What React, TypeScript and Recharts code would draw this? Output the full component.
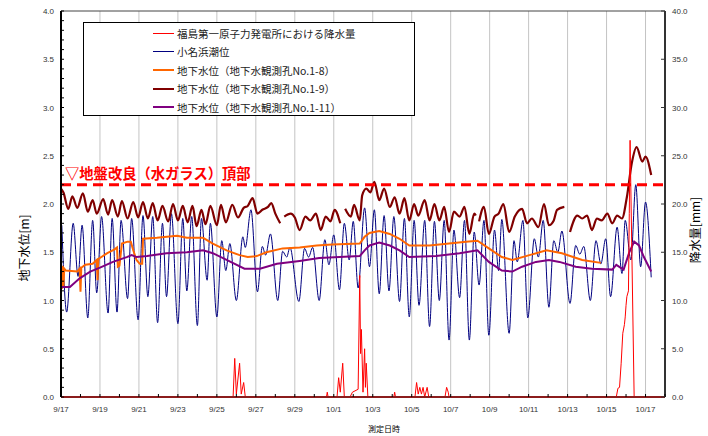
import React from 'react';
import { LineChart, Line, XAxis, YAxis, CartesianGrid, ReferenceLine } from 'recharts';

// points are [hours since 9/17 0:00, value]; null breaks the line
type Pt = [number, number | null];

const dateLabels = ['9/17', '9/19', '9/21', '9/23', '9/25', '9/27', '9/29', '10/1', '10/3', '10/5', '10/7', '10/9', '10/11', '10/13', '10/15', '10/17'];

const rainfall: Pt[] = [
  [0, 0], [212, 0], [214, 4.0], [216, 0.3], [220, 3.5], [222, 0.3], [225, 1.5], [227, 0],
  [327, 0], [328, 0.5], [329, 0], [340, 0], [342, 2.0], [344, 0.5], [347, 3.5], [349, 0],
  [356, 0], [359, 0.5], [366, 0.8], [368, 12.6], [369, 4.5], [370, 7.0], [372, 0.5], [374, 5.0], [375, 1.0], [376, 3.5], [378, 0],
  [410, 0], [411, 0.5], [412, 0],
  [436, 0], [438, 1.5], [440, 0.3], [442, 1.0], [444, 0.3], [446, 1.0], [448, 0], [451, 1.0], [453, 0],
  [473, 0], [475, 1.0], [477, 0.5], [478, 0],
  [684, 0], [686, 0.9], [688, 1.0], [690, 3.5], [692, 6.6], [694, 7.5], [695, 8.3], [696, 9.5], [697, 10.4], [699, 11.0], [700, 19.0], [701, 26.6], [706, 0],
  [727, 0],
];

const tideLevel: Pt[] = [
  [1, 1.78], [7, 0.88], [15, 1.80], [21, 1.25], [26, 1.78], [33, 0.82], [39, 1.83], [44, 1.08], [50, 1.87], [58, 0.87],
  [63, 1.85], [69, 0.88], [74, 1.83], [82, 1.02], [87, 1.85], [95, 0.80], [101, 1.88], [107, 1.04], [113, 1.87], [119, 0.77],
  [125, 1.80], [130, 1.04], [136, 1.90], [144, 0.76], [150, 1.85], [155, 1.10], [161, 1.87], [168, 0.74], [173, 1.85], [180, 1.21],
  [184, 1.80], [192, 0.83], [198, 1.62], [203, 1.31], [208, 1.59], [216, 1.00], [224, 1.66], [227, 1.55], [234, 1.94], [242, 1.09],
  [248, 1.56], [252, 1.47], [258, 1.69], [267, 1.00], [273, 1.51], [278, 1.45], [282, 1.55], [293, 0.99], [300, 1.54], [305, 1.45],
  [310, 1.55], [318, 1.00], [325, 1.63], [330, 1.37], [336, 1.68], [343, 1.11], [349, 1.80], [355, 1.42], [360, 1.82], [366, 1.13],
  [374, 1.96], [380, 1.35], [386, 1.94], [392, 1.07], [398, 1.88], [404, 1.10], [410, 1.87], [417, 0.99], [423, 1.85], [429, 0.83],
  [435, 1.83], [441, 0.95], [448, 1.83], [454, 0.73], [460, 1.82], [466, 1.00], [472, 1.83], [478, 0.59], [484, 1.73], [491, 1.03],
  [497, 1.83], [503, 0.59], [509, 1.71], [515, 1.16], [521, 1.83], [527, 0.64], [534, 1.73], [539, 1.31], [543, 1.84], [552, 0.66],
  [558, 1.62], [562, 1.40], [569, 1.83], [575, 0.82], [583, 1.64], [588, 1.45], [594, 1.83], [601, 0.93], [607, 1.62], [612, 1.50],
  [617, 1.72], [627, 0.97], [634, 1.57], [639, 1.48], [644, 1.56], [652, 1.00], [659, 1.62], [665, 1.38], [671, 1.64], [677, 1.04],
  [685, 1.76], [691, 1.28], [695, 1.83], [702, 1.42], [708, 2.20], [714, 1.35], [720, 2.02], [727, 1.24],
];

const well18: Pt[] = [
  [0, 1.37], [1, 1.12], [2, 1.36], [3, 1.15], [4, 1.33], [6, 1.31], [20, 1.30], [23, 1.33], [24, 1.09], [25, 1.34],
  [30, 1.37], [39, 1.38], [44, 1.42], [45, 1.21], [46, 1.43], [57, 1.49], [66, 1.53], [69, 1.55], [70, 1.35], [72, 1.36],
  [75, 1.59], [82, 1.61], [86, 1.61], [89, 1.52], [93, 1.42], [97, 1.38], [100, 1.38], [101, 1.64], [118, 1.65], [143, 1.67],
  [155, 1.65], [175, 1.65], [187, 1.59], [204, 1.52], [220, 1.47], [230, 1.45], [241, 1.46], [253, 1.50], [273, 1.54], [294, 1.55],
  [315, 1.57], [334, 1.58], [368, 1.59], [374, 1.66], [380, 1.70], [392, 1.72], [405, 1.69], [417, 1.64], [429, 1.57], [454, 1.57],
  [478, 1.59], [499, 1.61], [513, 1.62], [527, 1.54], [543, 1.45], [556, 1.42], [577, 1.47], [598, 1.52], [617, 1.49], [642, 1.42],
  [665, 1.39],
];

const well19: Pt[] = [
  [0, 2.16], [3, 2.12], [9, 1.95], [14, 2.08], [20, 1.96], [27, 2.11], [33, 1.92], [39, 2.04], [44, 1.90], [52, 2.05],
  [58, 1.89], [63, 2.04], [70, 1.87], [75, 2.03], [82, 1.85], [89, 2.02], [95, 1.86], [101, 2.02], [107, 1.85], [113, 2.01],
  [119, 1.83], [125, 1.98], [132, 1.82], [138, 2.00], [144, 1.83], [150, 1.98], [156, 1.81], [162, 1.98], [167, 1.77], [173, 1.94],
  [178, 1.79], [184, 1.98], [192, 1.78], [197, 1.99], [203, 1.81], [211, 1.99], [218, 1.86], [225, 1.96], [230, 1.98], [236, 2.06],
  [242, 1.90], [248, 1.94], [255, 1.97], [259, 2.01], [264, 1.90], [270, 1.80], [273, null],
  [275, 1.87], [283, 1.90], [288, 1.86], [294, 1.73], [301, 1.87], [307, 1.83], [314, 1.90], [320, 1.73], [326, 1.87], [332, 1.82],
  [337, 1.94], [344, 1.80], [346, null],
  [350, 1.95], [357, 1.87], [361, 1.99], [368, 1.83], [371, 2.09], [376, 2.16], [381, 2.12], [386, 2.23], [392, 2.04], [398, 2.16],
  [405, 1.97], [411, 2.07], [417, 1.90], [423, 2.06], [429, 1.83], [435, 2.00], [440, 1.88], [448, 2.04], [454, 1.83], [460, 2.00],
  [466, 1.83], [472, 1.97], [478, 1.71], [484, 1.92], [491, 1.87], [497, 1.97], [503, 1.69], [509, 1.90], [511, 1.88], [513, null],
  [515, 1.82], [521, 1.97], [527, 1.69], [534, 1.87], [539, 1.90], [545, 2.00], [552, 1.71], [559, 1.87], [568, 1.95], [574, 1.80],
  [580, 1.85], [588, 1.76], [595, 2.00], [601, 1.78], [607, 1.83], [611, 1.94], [620, 1.97], [624, null],
  [627, 1.71], [636, 1.88], [642, 1.85], [648, 1.88], [654, 1.73], [660, 1.85], [666, 1.83], [673, 1.90], [679, 1.80], [685, 1.88],
  [691, 1.85], [697, 2.07], [703, 2.42], [709, 2.59], [716, 2.44], [720, 2.49], [727, 2.30],
];

const well111: Pt[] = [
  [0, 1.14], [11, 1.14], [23, 1.23], [36, 1.30], [48, 1.34], [64, 1.40], [81, 1.45], [87, 1.47], [93, 1.45], [106, 1.46],
  [130, 1.49], [155, 1.50], [175, 1.52], [187, 1.49], [204, 1.42], [226, 1.33], [245, 1.33], [266, 1.38], [294, 1.41], [318, 1.44],
  [343, 1.45], [368, 1.46], [374, 1.52], [380, 1.57], [392, 1.60], [405, 1.57], [417, 1.52], [429, 1.45], [462, 1.46], [491, 1.49],
  [513, 1.52], [527, 1.40], [543, 1.31], [556, 1.30], [568, 1.35], [585, 1.40], [601, 1.42], [614, 1.40], [634, 1.35], [654, 1.33],
  [679, 1.32], [684, 1.37], [693, 1.32], [700, 1.50], [706, 1.61], [712, 1.57], [718, 1.45], [727, 1.30],
];

const groutTop = 2.2;
const groutLabel = '▽地盤改良（水ガラス）頂部';

const legendItems = [
  { name: '福島第一原子力発電所における降水量', color: '#ff0000', width: 1 },
  { name: '小名浜潮位', color: '#000080', width: 1 },
  { name: '地下水位（地下水観測孔No.1-8）', color: '#ff6600', width: 2 },
  { name: '地下水位（地下水観測孔No.1-9）', color: '#800000', width: 2 },
  { name: '地下水位（地下水観測孔No.1-11）', color: '#800080', width: 2 },
];

const rows = (pts: Pt[]) => pts.map(([h, v]) => ({ h, v }));

const PL = 61;
const PR = 665;
const PB = 397;
const JP = '"Noto Sans CJK JP", sans-serif';
const NUM = '"Liberation Sans", Arial, sans-serif';

document.body.style.margin = '0';

const dayTicks = Array.from({ length: 32 }, (_, i) => i * 24);
const gridHours = dateLabels.map((_, i) => i * 48).filter(v => v > 0);
const levelTicks = Array.from({ length: 41 }, (_, i) => i / 10);

const DateTick = (props: any) => {
  const { x, payload } = props;
  const day = Math.round(payload.value / 24);
  const label = day % 2 === 0 ? dateLabels[day / 2] : null;
  return (
    <g>
      <line x1={x} x2={x} y1={PB} y2={PB - 3} stroke="#000" />
      {label && (
        <text x={x} y={PB + 15} textAnchor="middle" fontSize={8} fontFamily={NUM} fill="#333">{label}</text>
      )}
    </g>
  );
};

const LevelTick = (props: any) => {
  const { y, payload } = props;
  const major = Math.round(payload.value * 10) % 5 === 0;
  return (
    <g>
      <line x1={PL} x2={PL + 3} y1={y} y2={y} stroke="#000" />
      {major && (
        <text x={PL - 7} y={y + 3} textAnchor="end" fontSize={8} fontFamily={NUM} fill="#333">{payload.value.toFixed(1)}</text>
      )}
    </g>
  );
};

const RainTick = (props: any) => {
  const { y, payload } = props;
  return (
    <g>
      <line x1={PR - 4} x2={PR} y1={y} y2={y} stroke="#333" />
      <text x={PR + 7} y={y + 3} textAnchor="start" fontSize={8} fontFamily={NUM} fill="#333">{payload.value.toFixed(1)}</text>
    </g>
  );
};

const LeftTitle = () => (
  <text x={23} y={248} transform="rotate(-90 23 248)" textAnchor="middle" dominantBaseline="central" fontSize={12} fontFamily={JP} fill="#000">地下水位[m]</text>
);

const RightTitle = () => (
  <text x={694} y={230} transform="rotate(-90 694 230)" textAnchor="middle" dominantBaseline="central" fontSize={12} fontFamily={JP} fill="#000">降水量[mm]</text>
);

const BottomTitle = () => (
  <text x={384} y={432} textAnchor="middle" fontSize={8} fontFamily={JP} fill="#000">測定日時</text>
);

const GroutLabel = (props: any) => {
  const y = props.viewBox ? props.viewBox.y : 185;
  return (
    <text x={PL + 4} y={y - 6} fontSize={14.3} fontWeight="bold" fontFamily={JP} fill="#ff0000">{groutLabel}</text>
  );
};

export default function App() {
  return (
    <div style={{ position: 'relative', width: 708, height: 436, background: '#fff' }}>
      <LineChart width={708} height={436} margin={{ top: 11, right: 0, bottom: 11, left: 11 }}>
        <CartesianGrid stroke="#c4c4c4" vertical={false} horizontalValues={[0.5, 1, 1.5, 2, 2.5, 3, 3.5]} />
        <XAxis
          dataKey="h"
          type="number"
          domain={[0, 744]}
          ticks={dayTicks}
          interval={0}
          tick={<DateTick />}
          tickLine={false}
          axisLine={{ stroke: '#8b1c1c', strokeWidth: 2 }}
          height={28}
          label={<BottomTitle />}
          allowDataOverflow
        />
        <YAxis
          yAxisId="level"
          domain={[0, 4]}
          ticks={levelTicks}
          interval={0}
          tick={<LevelTick />}
          tickLine={false}
          axisLine={{ stroke: '#000', strokeWidth: 2 }}
          width={50}
          label={<LeftTitle />}
          allowDataOverflow
        />
        <YAxis
          yAxisId="rain"
          orientation="right"
          domain={[0, 40]}
          ticks={[0, 5, 10, 15, 20, 25, 30, 35, 40]}
          interval={0}
          tick={<RainTick />}
          tickLine={false}
          axisLine={{ stroke: '#333', strokeWidth: 2 }}
          width={43}
          label={<RightTitle />}
          allowDataOverflow
        />
        {gridHours.map(h => (
          <ReferenceLine key={h} yAxisId="level" x={h} stroke="#c4c4c4" strokeWidth={1} />
        ))}
        <ReferenceLine yAxisId="level" y={4} stroke="#444" strokeWidth={1} />
        <Line yAxisId="level" data={rows(tideLevel)} dataKey="v" type="monotone" stroke="#000080" strokeWidth={1} dot={false} isAnimationActive={false} />
        <Line yAxisId="level" data={rows(well18)} dataKey="v" type="linear" stroke="#ff6600" strokeWidth={2} dot={false} isAnimationActive={false} />
        <Line yAxisId="level" data={rows(well19)} dataKey="v" type="monotone" stroke="#800000" strokeWidth={2.2} dot={false} connectNulls={false} isAnimationActive={false} />
        <Line yAxisId="level" data={rows(well111)} dataKey="v" type="linear" stroke="#800080" strokeWidth={2} dot={false} isAnimationActive={false} />
        <ReferenceLine yAxisId="level" y={groutTop} stroke="#ff0000" strokeWidth={3} strokeDasharray="10 6" label={<GroutLabel />} />
        <Line yAxisId="rain" data={rows(rainfall)} dataKey="v" type="linear" stroke="#ff0000" strokeWidth={1} dot={false} isAnimationActive={false} />
      </LineChart>
      <div
        style={{
          position: 'absolute', left: 83, top: 22, width: 330, height: 92,
          border: '1px solid #000', background: '#fff', fontFamily: JP, fontSize: 10.5, color: '#222',
        }}
      >
        {legendItems.map((it, i) => (
          <div key={it.name} style={{ position: 'absolute', left: 69, top: 2 + i * 18.6, height: 16, display: 'flex', alignItems: 'center', whiteSpace: 'nowrap' }}>
            <span style={{ display: 'inline-block', width: 21, height: it.width, background: it.color, marginRight: 3 }} />
            <span>{it.name}</span>
          </div>
        ))}
      </div>
    </div>
  );
}
